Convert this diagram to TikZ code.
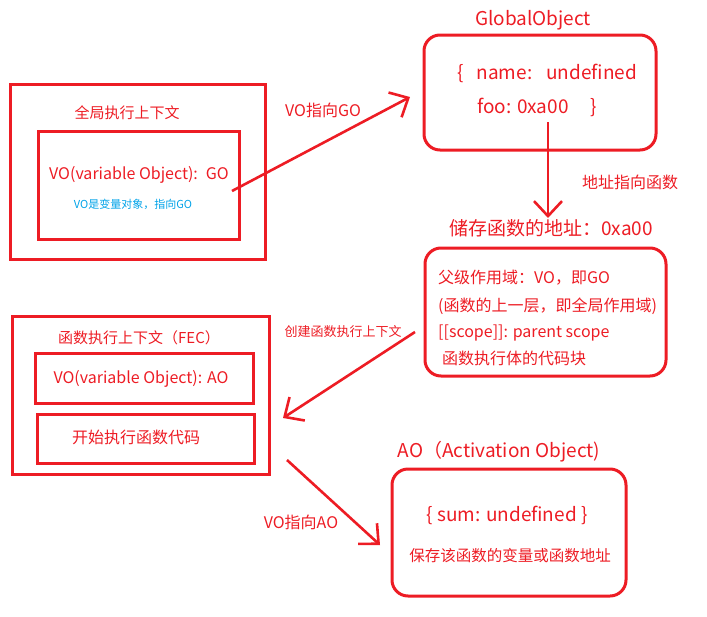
\documentclass[tikz,border=0pt]{standalone}
\usepackage{fontspec}
\setmainfont{Noto Sans CJK SC}
\usetikzlibrary{arrows.meta}
\definecolor{pred}{RGB}{237,28,36}
\definecolor{pblue}{RGB}{0,162,232}
\tikzset{
  box/.style={draw=pred, line width=3pt, inner sep=0pt},
  rbox/.style={box, rounded corners=16pt},
  ptr/.style={-{Straight Barb[length=15pt,width=28pt]}, line width=2.6pt, pred},
  txt/.style={text=pred, inner sep=0pt, font=\fontsize{16}{19}\selectfont},
  big/.style={txt, font=\fontsize{19}{23}\selectfont},
  sml/.style={txt, font=\fontsize{13}{16}\selectfont},
}

\begin{document}
\begin{tikzpicture}[x=1pt,y=-1pt]
  \useasboundingbox (0,0) rectangle (707,616);

  % --- global execution context ---
  \node[box, minimum width=255pt, minimum height=175pt] (gec) at (137.5,171.5) {};
  \node[txt, font=\fontsize{15}{18}\selectfont] (gectitle) at (127,113) {全局执行上下文};
  \node[box, minimum width=201pt, minimum height=108pt] (gvo) at (138.5,185) {};
  \node[txt] (gvotxt) at (139,175) {VO(variable Object):\hspace{8pt}GO};
  \node[txt, text=pblue, font=\fontsize{11}{13}\selectfont] (gvonote) at (133,204) {VO是变量对象，指向GO};

  % --- global object ---
  \node[big] (gotitle) at (533,20) {GlobalObject};
  \node[rbox, minimum width=232pt, minimum height=115pt] (go) at (540,92.5) {};
  \node[big, anchor=west] (goname) at (457,73) {\{\hspace{13pt}name:\hspace{14pt}undefined};
  \node[big, anchor=west] (gofoo) at (477,107) {foo: 0xa00\hspace{22pt}\}};

  % --- stored function ---
  \node[big] (fntitle) at (551,228) {储存函数的地址：0xa00};
  \node[rbox, minimum width=241pt, minimum height=128pt] (fn) at (545.5,312) {};
  \node[txt, anchor=west] (fn1) at (438,278) {父级作用域：VO，即GO};
  \node[txt, anchor=west] (fn2) at (438,306) {(函数的上一层，即全局作用域)};
  \node[txt, anchor=west] (fn3) at (438,333) {[[scope]]: parent scope};
  \node[txt, anchor=west] (fn4) at (442,358) {函数执行体的代码块};

  % --- function execution context ---
  \node[box, minimum width=257pt, minimum height=158pt] (fec) at (140.5,395) {};
  \node[txt, font=\fontsize{15}{18}\selectfont] (fectitle) at (139,338) {函数执行上下文（FEC）};
  \node[box, minimum width=218pt, minimum height=50pt] (fvo) at (144,378) {};
  \node[txt] (fvotxt) at (141,379) {VO(variable Object): AO};
  \node[box, minimum width=217pt, minimum height=49pt] (frun) at (145.5,438.5) {};
  \node[txt] (fruntxt) at (136,437) {开始执行函数代码};

  % --- activation object ---
  \node[big] (aotitle) at (499,452) {AO（Activation Object)};
  \node[rbox, minimum width=234pt, minimum height=127pt] (ao) at (509,532.5) {};
  \node[big] (aosum) at (507,515) {\{ sum: undefined \}};
  \node[txt, font=\fontsize{15.5}{18}\selectfont] (aonote) at (510,556) {保存该函数的变量或函数地址};

  % --- pointers ---
  \coordinate (p1s) at (232,191);  \coordinate (p1e) at (410,97);
  \coordinate (p2s) at (548,122);  \coordinate (p2e) at (548,218);
  \coordinate (p3s) at (415,332);  \coordinate (p3e) at (283,418);
  \coordinate (p4s) at (287,460);  \coordinate (p4e) at (380,545);
  \draw[ptr] (p1s) -- (p1e);
  \draw[ptr] (p2s) -- (p2e);
  \draw[ptr] (p3s) -- (p3e);
  \draw[ptr] (p4s) -- (p4e);
  \node[txt] (l1) at (323,110) {VO指向GO};
  \node[txt] (l2) at (630,182) {地址指向函数};
  \node[sml] (l3) at (343,332) {创建函数执行上下文};
  \node[txt] (l4) at (301,522) {VO指向AO};
\end{tikzpicture}
\end{document}
